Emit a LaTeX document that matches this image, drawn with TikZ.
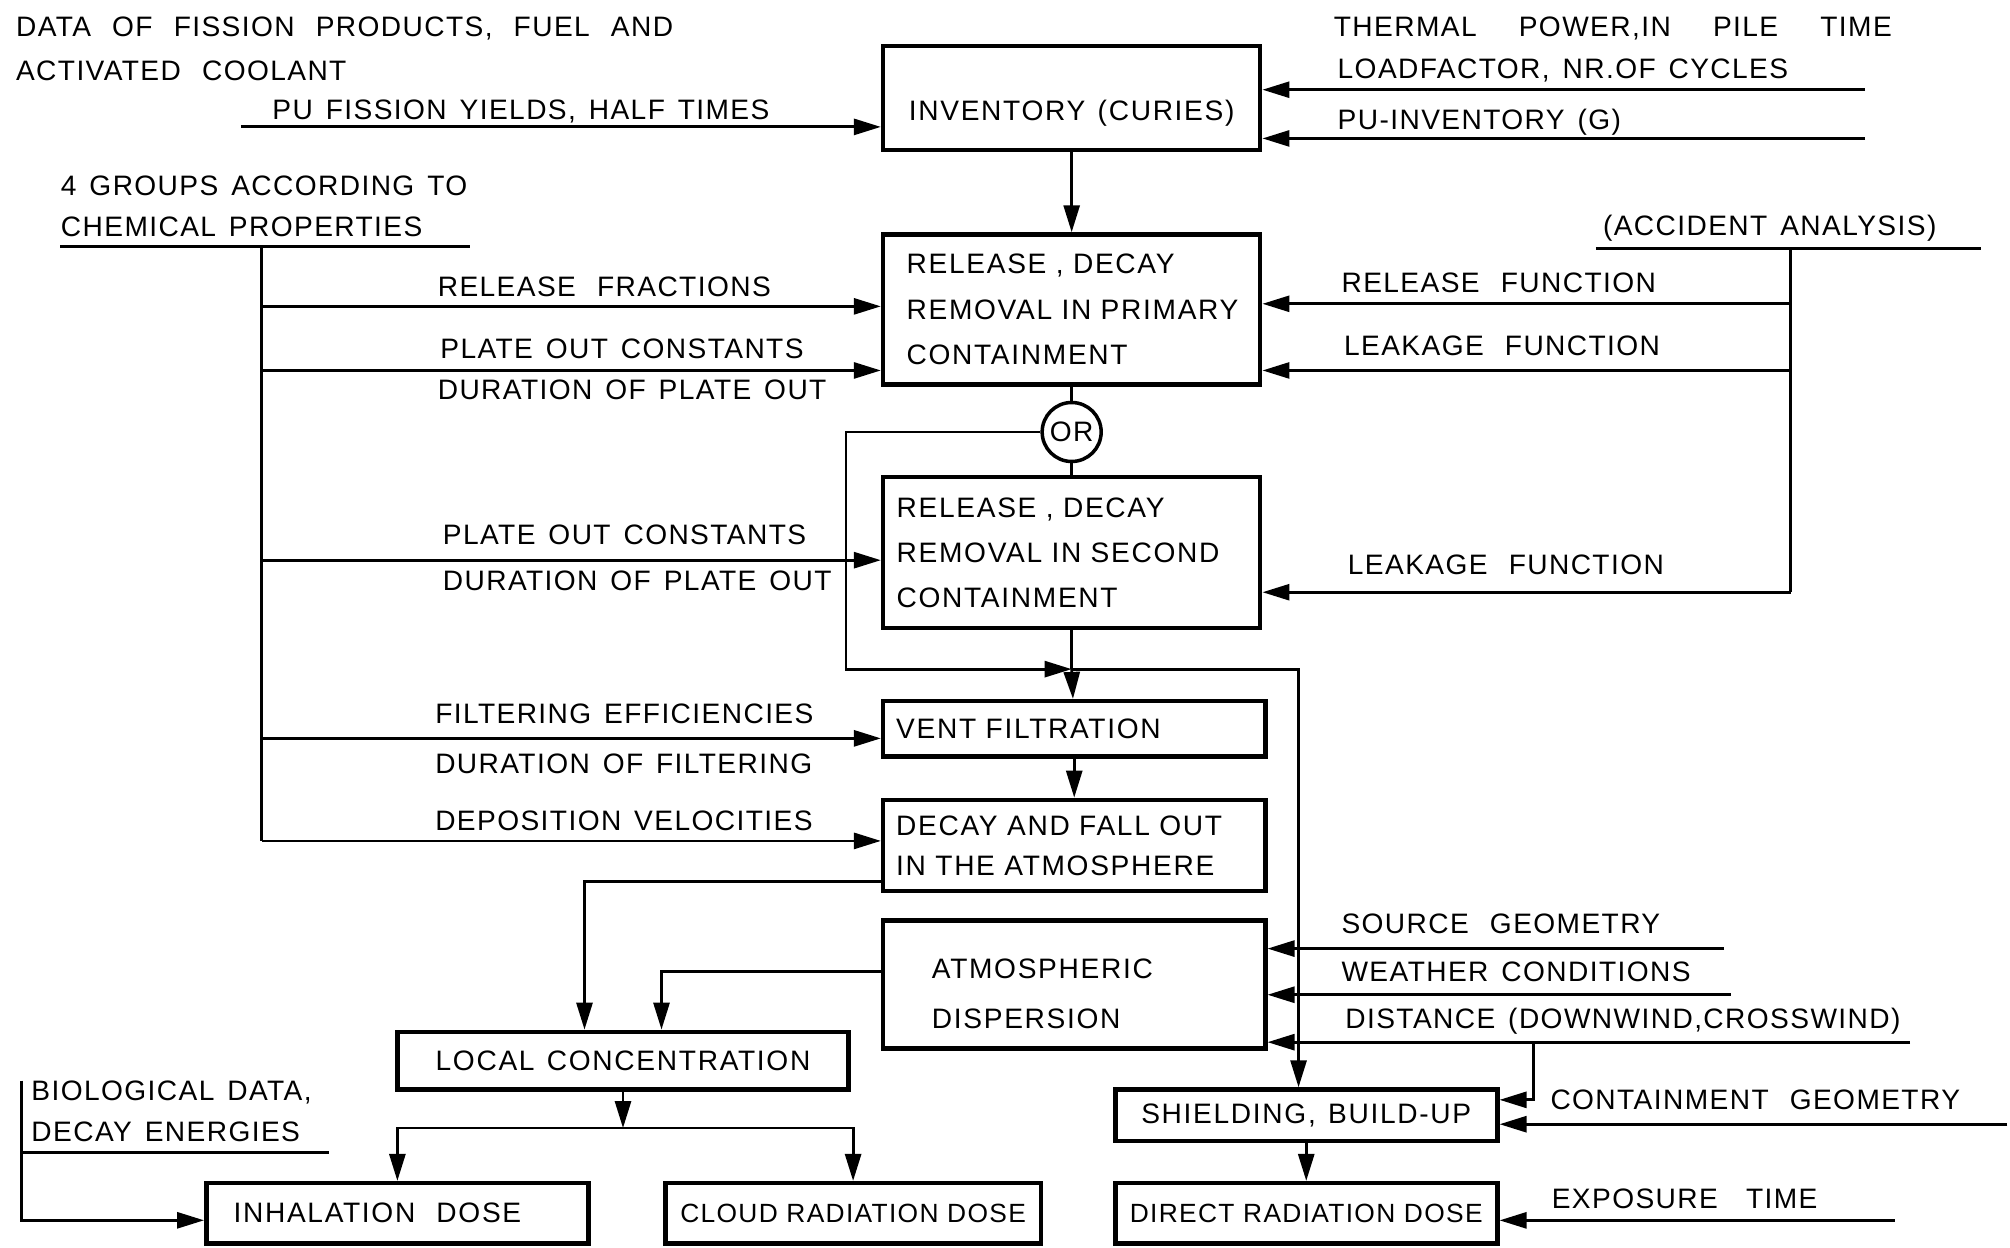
\documentclass[tikz,border=0pt]{standalone}
\usepackage{fontspec}
\setmainfont{Liberation Sans}[LetterSpace=5, WordSpace=1.4]
\newfontfamily\blkfont{Liberation Sans}[LetterSpace=6, WordSpace=1.3]
\newfontfamily\dosefont{Liberation Sans}[LetterSpace=5, WordSpace=1.0]
\usepackage{tikz}
\usetikzlibrary{arrows.meta}
\hyphenpenalty=10000
\exhyphenpenalty=10000
\tikzset{
  lnk/.style={draw=black, line width=0.8pt},
  arr/.style={lnk, -{Triangle[length=2.7mm,width=1.6mm]}},
  blk/.style={draw=black, line width=1.3pt, rectangle, inner sep=0pt},
  lab/.style={anchor=west, inner sep=0pt, font=\fontsize{8}{9}\selectfont},
  orc/.style={circle, draw=black, line width=1pt, inner sep=0pt, minimum size=0.59cm, font=\fontsize{8}{9}\selectfont},
}

\begin{document}
\begin{tikzpicture}[x=0.012819cm, y=-0.012819cm]
  \useasboundingbox (0,0) rectangle (1568,973);
  % main column
  \node[blk, minimum width=3.77cm, minimum height=1.04cm, text height=0.44cm, text depth=0pt, font=\blkfont\fontsize{8}{9}\selectfont] (inv) at (836,76.5) {INVENTORY (CURIES)};
  \node[blk, minimum height=1.5cm, inner xsep=0.135cm, text width=3.5cm, align=left, font=\blkfont\fontsize{8}{13}\selectfont] (prim) at (836,241.5)
    {\hspace*{0.1cm}RELEASE , DECAY\\\hspace*{0.1cm}REMOVAL IN PRIMARY\\\hspace*{0.1cm}CONTAINMENT};
  \node[orc] (or) at (836,337) {OR};
  \node[blk, minimum height=1.513cm, inner xsep=0.135cm, text width=3.5cm, align=left, font=\blkfont\fontsize{8}{12.8}\selectfont] (sec) at (836,431)
    {RELEASE , DECAY\\REMOVAL IN SECOND\\CONTAINMENT};
  \node[blk, minimum height=0.551cm, inner xsep=0.13cm, text width=3.56cm, align=left, font=\blkfont\fontsize{8}{9}\selectfont] (vent) at (838,568.5) {VENT FILTRATION};
  \node[blk, minimum height=0.91cm, inner xsep=0.13cm, text width=3.56cm, align=left, font=\blkfont\fontsize{8}{11.4}\selectfont] (decay) at (838,659.5)
    {DECAY AND FALL OUT\\IN THE ATMOSPHERE};
  \node[blk, minimum height=1.282cm, inner xsep=0.487cm, text width=2.846cm, align=left, text depth=0.31cm, font=\blkfont\fontsize{8}{14.2}\selectfont] (atmo) at (838,768)
    {ATMOSPHERIC\\DISPERSION};
  % lower boxes
  \node[blk, minimum width=4.512cm, minimum height=0.577cm, font=\blkfont\fontsize{8}{9}\selectfont] (local) at (486,827.5) {LOCAL CONCENTRATION};
  \node[blk, minimum width=3.82cm, minimum height=0.513cm, font=\blkfont\fontsize{8}{9}\selectfont] (shield) at (1019,870) {SHIELDING, BUILD-UP};
  \node[blk, minimum width=3.82cm, minimum height=0.602cm, font=\blkfont\fontsize{8}{9}\selectfont] (inhal) at (310,946.5) {INHALATION\hspace{6pt}DOSE\hspace*{0.4cm}};
  \node[blk, minimum width=3.756cm, minimum height=0.602cm, font=\dosefont\fontsize{7.5}{9}\selectfont] (cloud) at (665.5,946.5) {CLOUD RADIATION DOSE};
  \node[blk, minimum width=3.82cm, minimum height=0.602cm, font=\dosefont\fontsize{7.5}{9}\selectfont] (direct) at (1019,946.5) {DIRECT RADIATION DOSE};

  % flow down the column
  \draw[arr] (inv) -- (prim);
  \draw[lnk] (prim) -- (or);
  \draw[lnk] (or) -- (sec);
  \coordinate (J) at (836,522);
  \coordinate (JR) at (1013,522);
  \draw[arr] (or.west) -- (660,337) -- (660,522) -- (J);
  \draw[lnk] (sec) -- (J);
  \draw[arr] (J) -- (vent);
  \draw[arr] (J) -- (JR) -- (JR |- shield.north);
  \draw[arr] (vent) -- (decay);
  \draw[arr] ([yshift=0.115cm]decay.south west) -| ([xshift=-0.385cm]local.north);
  \draw[arr] ([yshift=0.128cm]atmo.west) -| ([xshift=0.385cm]local.north);
  \coordinate (LJ) at (486,880);
  \draw[arr] (local) -- (LJ);
  \draw[arr] (LJ) -| (inhal.north);
  \draw[arr] (LJ) -| (cloud.north);
  \draw[arr] (shield) -- (direct);

  % inputs, top
  \node[lab] (t1) at (12,22) {DATA\hspace{6pt}OF\hspace{6pt}FISSION\hspace{6pt}PRODUCTS,\hspace{6pt}FUEL\hspace{6pt}AND};
  \node[lab] (t2) at (12,55) {ACTIVATED\hspace{6pt}COOLANT};
  \node[lab] (t3) at (212,87) {PU FISSION YIELDS, HALF TIMES};
  \draw[arr] (188,99) -- (188,99 -| inv.west);
  \node[lab] (t4) at (1040,22) {THERMAL\hspace{12pt}POWER,IN\hspace{12pt}PILE\hspace{12pt}TIME};
  \node[lab] (t5) at (1043,55) {LOADFACTOR, NR.OF CYCLES};
  \node[lab] (t6) at (1043,95) {PU-INVENTORY (G)};
  \draw[arr] (1455,70) -- (1455,70 -| inv.east);
  \draw[arr] (1455,108) -- (1455,108 -| inv.east);

  % chemical groups, left
  \node[lab] (g1) at (47,145) {4 GROUPS ACCORDING TO};
  \node[lab] (g2) at (47,177) {CHEMICAL PROPERTIES};
  \draw[lnk] (47,192) -- (367,192);
  \draw[lnk] (204,192) -- (204,656);
  \foreach \yy/\tgt in {239/prim, 289/prim, 437/sec, 576/vent, 656/decay}
    \draw[arr] (204,\yy) -- (204,\yy -| \tgt.west);
  \node[lab] at (341,224) {RELEASE\hspace{6pt}FRACTIONS};
  \node[lab] at (343,272) {PLATE OUT CONSTANTS};
  \node[lab] at (341,304) {DURATION OF PLATE OUT};
  \node[lab] at (345,417) {PLATE OUT CONSTANTS};
  \node[lab] at (345,453) {DURATION OF PLATE OUT};
  \node[lab] at (339,557) {FILTERING EFFICIENCIES};
  \node[lab] at (339,596) {DURATION OF FILTERING};
  \node[lab] at (339,640) {DEPOSITION VELOCITIES};

  % accident analysis, right
  \node[lab] (acc) at (1250,178) {(ACCIDENT ANALYSIS)};
  \draw[lnk] (1245,194) -- (1545,194);
  \draw[lnk] (1397,194) -- (1397,462);
  \foreach \yy/\tgt in {237/prim, 289/prim, 462/sec}
    \draw[arr] (1397,\yy) -- (1397,\yy -| \tgt.east);
  \node[lab] at (1046,221) {RELEASE\hspace{6pt}FUNCTION};
  \node[lab] at (1048,270) {LEAKAGE\hspace{6pt}FUNCTION};
  \node[lab] at (1051,441) {LEAKAGE\hspace{6pt}FUNCTION};

  % dispersion and shielding inputs
  \node[lab] at (1046,721) {SOURCE\hspace{6pt}GEOMETRY};
  \node[lab] at (1046,758) {WEATHER CONDITIONS};
  \node[lab] at (1049,797) {DISTANCE (DOWNWIND,CROSSWIND)};
  \draw[arr] (1345,740) -- (1345,740 -| atmo.east);
  \draw[arr] (1350,776) -- (1350,776 -| atmo.east);
  \draw[arr] (1490,813) -- (1490,813 -| atmo.east);
  \draw[arr] (1196,813) |- ([yshift=0.154cm]shield.east);
  \node[lab] at (1209,858) {CONTAINMENT\hspace{6pt}GEOMETRY};
  \draw[arr] (1566,877) -- (1566,877 -| shield.east);
  \node[lab] at (1210,935) {EXPOSURE\hspace{8pt}TIME};
  \draw[arr] (1478,952) -- (1478,952 -| direct.east);

  % biological data
  \node[lab] at (24,852) {BIOLOGICAL DATA,};
  \node[lab] at (24,883) {DECAY ENERGIES};
  \draw[lnk] (17,899) -- (257,899);
  \draw[arr] (17,843) |- ([yshift=-0.07cm]inhal.west);
\end{tikzpicture}
\end{document}
